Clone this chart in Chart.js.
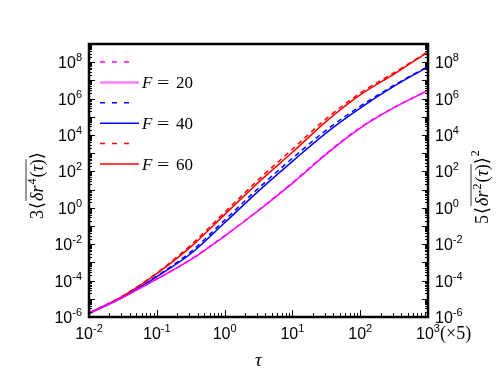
<!DOCTYPE html>
<html>
<head>
<meta charset="utf-8">
<script src="https://cdn.jsdelivr.net/npm/chart.js@4/dist/chart.umd.min.js"></script>
<style>
  html, body { margin: 0; padding: 0; background: #fff; }
</style>
</head>
<body>
<canvas id="chart" width="498" height="381"></canvas>
<script>
// Datos
const tau = [0.01, 0.0316, 0.1, 0.316, 1, 3.16, 10, 31.6, 100, 316, 1000];

const f20Dashed = [1.58e-6, 1.22e-5, 1.23e-4, 1.45e-3, 0.029, 0.74, 24, 960, 2.6e4, 3.3e5, 2.9e6];
const f20Solid  = [1.58e-6, 1.2e-5, 1.2e-4, 1.4e-3, 0.028, 0.71, 22, 890, 2.4e4, 3.2e5, 2.8e6];
const f40Dashed = [1.58e-6, 1.23e-5, 1.78e-4, 3.8e-3, 0.21, 12, 525, 1.86e4, 3.8e5, 5.4e6, 5.9e7];
const f40Solid  = [1.58e-6, 1.2e-5, 1.66e-4, 3.0e-3, 0.15, 8.3, 355, 1.32e4, 3.0e5, 4.8e6, 5.6e7];
const f60Dashed = [1.66e-6, 1.45e-5, 2.63e-4, 8.9e-3, 0.56, 35.5, 1660, 7.9e4, 2.0e6, 2.63e7, 3.8e8];
const f60Solid  = [1.66e-6, 1.41e-5, 2.4e-4, 7.1e-3, 0.42, 25, 1120, 5.6e4, 1.58e6, 2.24e7, 3.63e8];

const xTickExps = [-2, -1, 0, 1, 2, 3];
const yTickExps = [-6, -4, -2, 0, 2, 4, 6, 8];
const legendLabels = ['', '20', '', '40', '', '60'];

const SANS = "'Liberation Sans', Arial, sans-serif";
const SERIF = "'Liberation Serif', 'DejaVu Serif', serif";
const rm = s => s + 'px ' + SERIF;
const it = s => 'italic ' + s + 'px ' + SERIF;

const series = [
  { data: f20Dashed, color: '#ff00ff', dash: [5, 4] },
  { data: f20Solid, color: '#ff00ff', dash: [] },
  { data: f40Dashed, color: '#0000ff', dash: [5, 4] },
  { data: f40Solid, color: '#0000ff', dash: [] },
  { data: f60Dashed, color: '#ff0000', dash: [5, 4] },
  { data: f60Solid, color: '#ff0000', dash: [] }
];

const datasets = series.map(s => ({
  data: tau.map((t, i) => ({ x: t, y: s.data[i] })),
  borderColor: s.color,
  borderDash: s.dash,
  borderWidth: 1.5,
  pointRadius: 0,
  cubicInterpolationMode: 'monotone',
  fill: false
}));

// texto con partes (fuente distinta, superindices)
function richText(ctx, parts, x0, y0, angle, over) {
  ctx.save();
  ctx.translate(x0, y0);
  ctx.rotate(angle);
  ctx.textBaseline = 'alphabetic';
  ctx.textAlign = 'left';
  let cx = 0;
  const spans = [];
  parts.forEach(p => {
    ctx.font = p[1];
    ctx.fillText(p[0], cx, p[2] || 0);
    const w = ctx.measureText(p[0]).width;
    spans.push([cx, cx + w]);
    cx += w + (p[3] || 0);
  });
  if (over) {
    ctx.beginPath();
    ctx.lineWidth = 0.8;
    ctx.moveTo(spans[over[0]][0], over[2]);
    ctx.lineTo(spans[over[1]][1], over[2]);
    ctx.stroke();
  }
  ctx.restore();
}

function powLabel(ctx, exp, x, yBase, align) {
  ctx.textBaseline = 'alphabetic';
  ctx.textAlign = 'left';
  ctx.font = '16px ' + SANS;
  const w1 = ctx.measureText('10').width;
  ctx.font = '11px ' + SANS;
  const w2 = ctx.measureText(String(exp)).width;
  let x0 = x;
  if (align === 'center') x0 = x - (w1 + w2) / 2;
  if (align === 'right') x0 = x - w1 - w2;
  ctx.font = '16px ' + SANS;
  ctx.fillText('10', x0, yBase);
  ctx.font = '11px ' + SANS;
  ctx.fillText(String(exp), x0 + w1, yBase - 7);
}

const axesPlugin = {
  id: 'axesPlugin',
  afterDatasetsDraw(chart) {
    const { ctx, chartArea: a, scales: { x, y } } = chart;
    ctx.save();
    ctx.fillStyle = '#000';
    ctx.strokeStyle = '#000';

    // marcas de los ejes (hacia dentro)
    ctx.lineWidth = 1;
    ctx.beginPath();
    for (let e = -2; e < 3; e++) {
      for (let m = 1; m < 10; m++) {
        const px = Math.round(x.getPixelForValue(m * Math.pow(10, e))) + 0.5;
        const len = m === 1 ? 7 : 4;
        ctx.moveTo(px, a.bottom);
        ctx.lineTo(px, a.bottom - len);
      }
    }
    for (let e = -6; e < 9; e++) {
      for (let m = 1; m < 10; m++) {
        const py = Math.round(y.getPixelForValue(m * Math.pow(10, e))) + 0.5;
        const len = m === 1 ? 6 : 3;
        ctx.moveTo(a.left, py);
        ctx.lineTo(a.left + len, py);
        ctx.moveTo(a.right, py);
        ctx.lineTo(a.right - len, py);
      }
    }
    ctx.stroke();

    // marco
    ctx.lineWidth = 2.5;
    ctx.strokeRect(a.left, a.top, a.right - a.left, a.bottom - a.top);

    // etiquetas
    xTickExps.forEach(e => {
      powLabel(ctx, e, x.getPixelForValue(Math.pow(10, e)), a.bottom + 22, 'center');
    });
    yTickExps.forEach(e => {
      const py = y.getPixelForValue(Math.pow(10, e)) + 6;
      powLabel(ctx, e, a.left - 7, py, 'right');
      powLabel(ctx, e, a.right + 7, py, 'left');
    });
    ctx.font = rm(18);
    ctx.textAlign = 'left';
    ctx.fillText('(\u00d75)', a.right + 12, a.bottom + 22);

    // titulo eje x
    ctx.font = it(19);
    ctx.textAlign = 'center';
    ctx.fillText('\u03c4', (a.left + a.right) / 2, 366);

    // titulos eje y
    richText(ctx, [
      ['3', rm(18), 0, 1], ['\u27e8', rm(18), 0, 1], ['\u03b4', it(18)], ['r', it(18), 0, 1],
      ['4', rm(12), -7, 1], ['(', rm(18)], ['\u03c4', it(18)], [')', rm(18)], ['\u27e9', rm(18)]
    ], 43, 219, -Math.PI / 2, [2, 7, -17]);
    richText(ctx, [
      ['5', rm(18), 0, 1], ['\u27e8', rm(18), 0, 1], ['\u03b4', it(18)], ['r', it(18), 0, 1],
      ['2', rm(12), -7, 1], ['(', rm(18)], ['\u03c4', it(18)], [')', rm(18)], ['\u27e9', rm(18), 0, 1],
      ['2', rm(12), -9]
    ], 488, 224, -Math.PI / 2, [2, 7, -17]);

    // leyenda
    series.forEach((s, i) => {
      const ly = a.top + 18 + i * 20.4;
      ctx.beginPath();
      ctx.setLineDash(s.dash.length ? [5, 7] : []);
      ctx.strokeStyle = (i === 1) ? '#ff80ff' : s.color;
      ctx.lineWidth = (i === 1) ? 2.5 : 1.5;
      ctx.moveTo(a.left + 11, ly);
      ctx.lineTo(a.left + (s.dash.length ? 47 : 50), ly);
      ctx.stroke();
      ctx.setLineDash([]);
      if (legendLabels[i]) {
        const tx = a.left + 53;
        ctx.textAlign = 'left';
        ctx.font = it(17);
        ctx.fillText('F', tx, ly + 6);
        ctx.save();
        ctx.translate(tx + 15, ly + 6);
        ctx.scale(1.3, 1);
        ctx.font = rm(17);
        ctx.fillText('=', 0, 0);
        ctx.restore();
        ctx.font = rm(17);
        ctx.fillText(legendLabels[i], tx + 34, ly + 6);
      }
    });
    ctx.restore();
  }
};

new Chart(document.getElementById('chart'), {
  type: 'line',
  data: { datasets },
  options: {
    responsive: false,
    animation: false,
    layout: { padding: { left: 89, right: 70, top: 44, bottom: 64 } },
    plugins: { legend: { display: false }, tooltip: { enabled: false } },
    scales: {
      x: { type: 'logarithmic', min: 0.01, max: 1000, display: false },
      y: { type: 'logarithmic', min: 1e-6, max: 1e9, display: false }
    }
  },
  plugins: [axesPlugin]
});
</script>
</body>
</html>
